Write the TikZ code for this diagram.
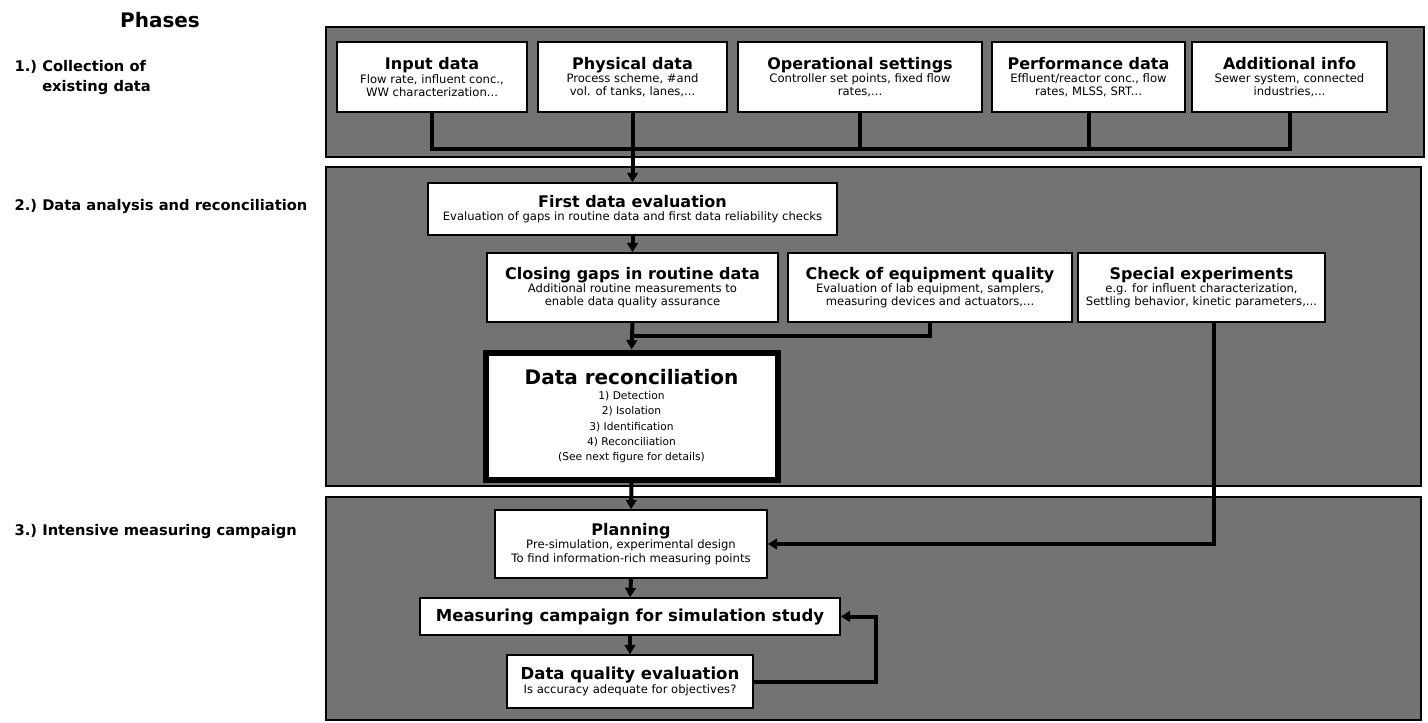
\documentclass[tikz,border=0pt]{standalone}
\usepackage{fontspec}
\setmainfont{DejaVu Sans}
\usetikzlibrary{arrows.meta}

\newcommand{\hd}[1]{{\fontsize{12}{13}\selectfont\bfseries #1}}

\tikzset{
  panel/.style={draw=black, line width=1pt, fill=black!55},
  box/.style={draw=black, line width=1.2pt, fill=white, align=center, inner sep=1pt},
  boxsize/.style 2 args={minimum width=#1*0.75pt, minimum height=#2*0.75pt},
  phaselabel/.style={anchor=west, align=left, font=\fontsize{11}{15}\selectfont\bfseries},
  link/.style={line width=3pt},
  flow/.style={link, -{Triangle[length=7pt,width=8pt]}},
}

\begin{document}
\begin{tikzpicture}[x=0.75pt, y=-0.75pt, font=\fontsize{8.7}{10}\selectfont]
\useasboundingbox (0,0) rectangle (1428,722);

% phase panels
\draw[panel] (326,27) rectangle (1424,157);
\draw[panel] (326,167) rectangle (1421,486);
\draw[panel] (326,497) rectangle (1421,720);

% phase labels
\node[font=\fontsize{15}{17}\selectfont\bfseries] (phases) at (160,20) {Phases};
\node[phaselabel] (ph1) at (10,78) {1.)~Collection of\\\phantom{1.)~}existing data};
\node[phaselabel] (ph2) at (10,207) {2.)~Data analysis and reconciliation};
\node[phaselabel] (ph3) at (10,532) {3.)~Intensive measuring campaign};

% 1.) existing data
\node[box, boxsize={190}{70}] (input) at (432,77)
  {\hd{Input data}\\Flow rate, influent conc.,\\WW characterization...};
\node[box, boxsize={189}{70}] (physical) at (632.5,77)
  {\hd{Physical data}\\Process scheme, \#and\\vol. of tanks, lanes,...};
\node[box, boxsize={244}{70}] (operational) at (860,77)
  {\hd{Operational settings}\\Controller set points, fixed flow\\rates,...};
\node[box, boxsize={193}{70}] (performance) at (1088.5,77)
  {\hd{Performance data}\\Effluent/reactor conc., flow\\rates, MLSS, SRT...};
\node[box, boxsize={195}{70}] (additional) at (1289.5,77)
  {\hd{Additional info}\\Sewer system, connected\\industries,...};

% 2.) analysis and reconciliation
\node[box, boxsize={409}{52}] (first) at (632.5,209)
  {\hd{First data evaluation}\\Evaluation of gaps in routine data and first data reliability checks};
\node[box, boxsize={291}{69}] (closing) at (632.5,287.5)
  {\hd{Closing gaps in routine data}\\Additional routine measurements to\\enable data quality assurance};
\node[box, boxsize={284}{69}] (equipment) at (930,287.5)
  {\hd{Check of equipment quality}\\Evaluation of lab equipment, samplers,\\measuring devices and actuators,...};
\node[box, boxsize={247}{69}] (special) at (1201.5,287.5)
  {\hd{Special experiments}\\e.g. for influent characterization,\\Settling behavior, kinetic parameters,...};
\node[box, line width=4.5pt, boxsize={292}{127}, font=\fontsize{8}{11.5}\selectfont] (datarec) at (631.5,416)
  {{\fontsize{15}{17}\selectfont\bfseries Data reconciliation}\\1) Detection\\2) Isolation\\3) Identification\\4) Reconciliation\\(See next figure for details)};

% 3.) measuring campaign
\node[box, boxsize={272}{68}] (planning) at (631,544)
  {\hd{Planning}\\Pre-simulation, experimental design\\To find information-rich measuring points};
\node[box, boxsize={420}{37}] (campaign) at (630,616.5)
  {{\fontsize{12.4}{14}\selectfont\bfseries Measuring campaign for simulation study}};
\node[box, boxsize={246}{53}] (quality) at (630,681.5)
  {{\fontsize{12.4}{14}\selectfont\bfseries Data quality evaluation}\\Is accuracy adequate for objectives?};

% connectors
\coordinate (bus) at (632.5,149);
\coordinate (join) at (632.5,336);
\draw[link] (input.south) |- (bus) -| (additional.south);
\foreach \n in {operational,performance}
  \draw[link] (\n.south) -- (\n.south |- bus);
\draw[flow] (physical.south) -- (first.north);
\draw[flow] (first.south) -- (closing.north);
\draw[flow] (closing.south) -- (datarec.north);
\draw[link] (equipment.south) |- (join);
\draw[flow] ([xshift=9pt]special.south) |- (planning.east);
\draw[flow] (datarec.south) -- (planning.north);
\draw[flow] (planning.south) -- (campaign.north);
\draw[flow] (campaign.south) -- (quality.north);
\draw[flow] (quality.east) -- ++(122,0) |- (campaign.east);
\end{tikzpicture}
\end{document}
